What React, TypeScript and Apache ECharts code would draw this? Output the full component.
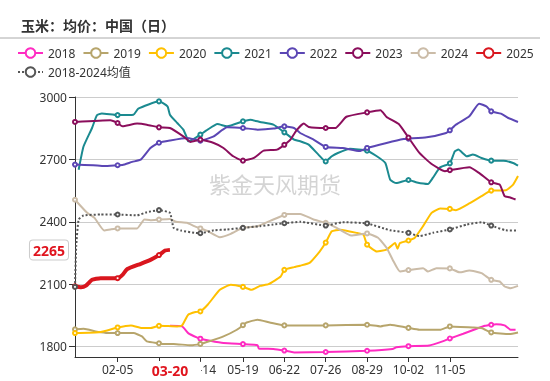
import React, { useEffect, useRef } from "react";
import * as echarts from "echarts";

const TITLE = "玉米：均价：中国（日）";
const WATERMARK = "紫金天风期货";
const tickLabels = ["02-05", "03-11", "04-14", "05-19", "06-22", "07-26", "08-29", "10-02", "11-05"];
const hiddenLabels = ["03-11"];
const markerDates = ["01-01", ...tickLabels, "12-09"];
const currentDate = "03-20";
const currentValue = 2265;
const yMin = 1750;
const yMax = 3000;

const d2018: [string, number][] = [
  ["03-20", 1900], ["03-30", 1897], ["04-04", 1865], ["04-11", 1844], ["04-14", 1838], ["04-22", 1828],
  ["05-03", 1817], ["05-19", 1812], ["05-31", 1807], ["06-01", 1791], ["06-13", 1789], ["06-22", 1781],
  ["06-30", 1772], ["07-26", 1774], ["08-29", 1780], ["09-19", 1789], ["09-22", 1797], ["10-02", 1802],
  ["10-19", 1805], ["10-30", 1825], ["11-05", 1839], ["11-16", 1862], ["11-27", 1886], ["12-04", 1900],
  ["12-09", 1905], ["12-13", 1908], ["12-20", 1902], ["12-25", 1881], ["12-29", 1881],
];
const d2019: [string, number][] = [
  ["01-01", 1883], ["01-08", 1886], ["01-19", 1872], ["01-28", 1865], ["02-05", 1865], ["02-18", 1865],
  ["02-25", 1849], ["03-01", 1825], ["03-11", 1816], ["03-15", 1812], ["03-23", 1813], ["04-06", 1806],
  ["04-14", 1813], ["04-22", 1827], ["05-03", 1849], ["05-14", 1881], ["05-19", 1903], ["05-22", 1916],
  ["05-31", 1929], ["06-10", 1916], ["06-22", 1902], ["07-26", 1902], ["08-29", 1905], ["09-09", 1897],
  ["09-17", 1905], ["09-30", 1892], ["10-02", 1890], ["10-11", 1881], ["10-28", 1881], ["11-05", 1897],
  ["11-24", 1892], ["12-01", 1889], ["12-09", 1868], ["12-24", 1860], ["12-31", 1868],
];
const d2020: [string, number][] = [
  ["01-01", 1865], ["01-22", 1870], ["02-05", 1892], ["02-16", 1902], ["02-25", 1889], ["03-04", 1889],
  ["03-11", 1900], ["03-26", 1897], ["03-30", 1902], ["04-04", 1953], ["04-10", 1966], ["04-14", 1969],
  ["04-20", 2001], ["04-30", 2073], ["05-09", 2097], ["05-19", 2087], ["05-26", 2073], ["06-02", 2092],
  ["06-09", 2100], ["06-19", 2137], ["06-22", 2169], ["06-30", 2182], ["07-05", 2189], ["07-13", 2204],
  ["07-21", 2257], ["07-26", 2300], ["07-31", 2354], ["08-07", 2362], ["08-21", 2346], ["08-26", 2338],
  ["08-29", 2290], ["09-06", 2257], ["09-14", 2266], ["09-21", 2298], ["09-23", 2270], ["09-25", 2298],
  ["10-02", 2310], ["10-07", 2322], ["10-14", 2379], ["10-21", 2443], ["10-28", 2464], ["11-05", 2462],
  ["11-10", 2456], ["11-21", 2488], ["12-01", 2523], ["12-09", 2550], ["12-21", 2552], ["12-27", 2579],
  ["12-31", 2620],
];
const d2021: [string, number][] = [
  ["01-04", 2650], ["01-08", 2762], ["01-15", 2851], ["01-19", 2912], ["01-23", 2921], ["02-05", 2913],
  ["02-18", 2915], ["02-22", 2944], ["03-11", 2979], ["03-18", 2955], ["03-20", 2915], ["03-26", 2875],
  ["03-31", 2843], ["04-03", 2803], ["04-04", 2787], ["04-09", 2800], ["04-14", 2819], ["04-20", 2843],
  ["04-28", 2870], ["05-06", 2859], ["05-19", 2883], ["05-25", 2891], ["06-02", 2880], ["06-13", 2867],
  ["06-22", 2830], ["06-30", 2795], ["07-05", 2787], ["07-12", 2771], ["07-20", 2723], ["07-26", 2690],
  ["07-31", 2715], ["08-05", 2731], ["08-15", 2751], ["08-29", 2742], ["09-06", 2715], ["09-13", 2683],
  ["09-17", 2602], ["09-22", 2586], ["10-02", 2601], ["10-09", 2589], ["10-18", 2582], ["10-22", 2611],
  ["10-28", 2662], ["11-05", 2681], ["11-09", 2738], ["11-12", 2747], ["11-19", 2715], ["11-24", 2723],
  ["12-01", 2707], ["12-09", 2694], ["12-19", 2694], ["12-27", 2683], ["12-31", 2670],
];
const d2022: [string, number][] = [
  ["01-01", 2675], ["01-16", 2672], ["01-25", 2668], ["02-05", 2672], ["02-09", 2673], ["02-17", 2688],
  ["02-24", 2699], ["03-04", 2755], ["03-11", 2780], ["03-20", 2791], ["04-03", 2803], ["04-14", 2790],
  ["04-25", 2811], ["05-06", 2854], ["05-19", 2851], ["05-31", 2843], ["06-13", 2848], ["06-22", 2859],
  ["06-30", 2851], ["07-05", 2827], ["07-16", 2795], ["07-26", 2760], ["08-09", 2755], ["08-23", 2740],
  ["08-29", 2755], ["09-14", 2779], ["09-28", 2798], ["10-02", 2800], ["10-17", 2806], ["11-02", 2827],
  ["11-05", 2840], ["11-10", 2867], ["11-21", 2907], ["11-29", 2968], ["12-05", 2955], ["12-09", 2931],
  ["12-17", 2920], ["12-23", 2899], ["12-31", 2880],
];
const d2023: [string, number][] = [
  ["01-01", 2880], ["01-30", 2888], ["02-05", 2875], ["02-09", 2859], ["02-21", 2872], ["03-01", 2867],
  ["03-11", 2854], ["03-20", 2851], ["03-31", 2811], ["04-06", 2784], ["04-14", 2795], ["04-25", 2779],
  ["05-03", 2755], ["05-11", 2715], ["05-19", 2694], ["05-28", 2707], ["06-05", 2742], ["06-16", 2747],
  ["06-22", 2770], ["06-27", 2795], ["07-02", 2840], ["07-08", 2872], ["07-12", 2856], ["07-26", 2851],
  ["08-03", 2851], ["08-12", 2905], ["08-29", 2926], ["09-09", 2936], ["09-14", 2904], ["09-24", 2870],
  ["10-02", 2805], ["10-11", 2731], ["10-21", 2678], ["11-01", 2643], ["11-05", 2648], ["11-21", 2662],
  ["11-29", 2635], ["12-09", 2590], ["12-16", 2579], ["12-20", 2523], ["12-24", 2518], ["12-29", 2507],
];
const d2024: [string, number][] = [
  ["01-01", 2506], ["01-11", 2443], ["01-17", 2419], ["01-25", 2358], ["01-30", 2363], ["02-05", 2368],
  ["02-21", 2368], ["02-27", 2411], ["03-04", 2408], ["03-11", 2411], ["03-20", 2414], ["03-25", 2400],
  ["04-03", 2395], ["04-09", 2379], ["04-14", 2368], ["04-20", 2355], ["04-30", 2326], ["05-09", 2342],
  ["05-19", 2371], ["05-31", 2379], ["06-13", 2411], ["06-22", 2433], ["06-24", 2438], ["07-05", 2438],
  ["07-16", 2411], ["07-26", 2395], ["08-04", 2371], ["08-16", 2334], ["08-29", 2344], ["09-07", 2323],
  ["09-14", 2275], ["09-19", 2218], ["09-25", 2161], ["10-02", 2168], ["10-14", 2177], ["10-18", 2161],
  ["10-25", 2177], ["11-05", 2176], ["11-13", 2157], ["11-21", 2166], ["12-01", 2153], ["12-09", 2121],
  ["12-16", 2113], ["12-20", 2089], ["12-25", 2081], ["12-31", 2092],
];
const d2025: [string, number][] = [
  ["01-01", 2090], ["01-06", 2085], ["01-10", 2093], ["01-15", 2121], ["01-22", 2129], ["02-05", 2129],
  ["02-09", 2145], ["02-13", 2173], ["02-24", 2198], ["03-04", 2217], ["03-11", 2240], ["03-16", 2262],
  ["03-20", 2265],
];
const dAvg: [string, number][] = [
  ["01-01", 2087], ["01-02", 2283], ["01-04", 2411], ["01-08", 2430], ["01-22", 2435], ["02-05", 2435],
  ["02-21", 2431], ["03-01", 2446], ["03-11", 2456], ["03-20", 2443], ["03-23", 2371], ["03-29", 2358],
  ["04-09", 2347], ["04-14", 2345], ["04-25", 2359], ["05-06", 2363], ["05-19", 2371], ["06-02", 2379],
  ["06-13", 2387], ["06-22", 2393], ["07-05", 2400], ["07-26", 2382], ["08-09", 2398], ["08-29", 2392],
  ["09-17", 2359], ["10-02", 2347], ["10-11", 2331], ["10-22", 2347], ["11-05", 2363], ["11-19", 2387],
  ["12-01", 2398], ["12-09", 2382], ["12-21", 2359], ["12-31", 2358],
];

const monthLengths = [31, 28, 31, 30, 31, 30, 31, 31, 30, 31, 30, 31];
const categories: string[] = [];
monthLengths.forEach((len, m) => {
  for (let d = 1; d <= len; d++) {
    categories.push(String(m + 1).padStart(2, "0") + "-" + String(d).padStart(2, "0"));
  }
});

const seriesDefs = [
  { name: "2018", color: "#ff2bc2", data: d2018, width: 2, type: "solid" },
  { name: "2019", color: "#b7a56c", data: d2019, width: 2, type: "solid" },
  { name: "2020", color: "#ffc000", data: d2020, width: 2, type: "solid" },
  { name: "2021", color: "#1b8a90", data: d2021, width: 2, type: "solid" },
  { name: "2022", color: "#5b46b4", data: d2022, width: 2, type: "solid" },
  { name: "2023", color: "#8b0e5c", data: d2023, width: 2, type: "solid" },
  { name: "2024", color: "#cbbca8", data: d2024, width: 2, type: "solid" },
  { name: "2025", color: "#d9161e", data: d2025, width: 4, type: "solid" },
  { name: "2018-2024均值", color: "#555555", data: dAvg, width: 2, type: "dotted" },
];

const FONT = "'Noto Sans', 'Noto Sans CJK SC', sans-serif";

export default function App() {
  const ref = useRef<HTMLDivElement>(null);
  useEffect(() => {
    const chart = echarts.init(ref.current!, null, { renderer: "svg" });
    const tickSet = new Set(tickLabels);
    const labelSet = new Set(tickLabels.filter((t) => !hiddenLabels.includes(t)));
    const markerSet = new Set(markerDates);
    chart.setOption({
      animation: false,
      textStyle: { fontFamily: FONT },
      title: {
        text: TITLE,
        left: 16,
        top: 13,
        textStyle: { fontSize: 14, fontWeight: "bold", color: "#333", fontFamily: "'Noto Sans CJK SC', sans-serif" },
      },
      legend: {
        left: 12,
        right: 0,
        top: 42,
        itemWidth: 25,
        itemHeight: 12,
        itemGap: 7,
        textStyle: { fontSize: 12, color: "#333" },
        data: seriesDefs.map((s) => s.name),
      },
      graphic: [
        {
          type: "line",
          silent: true,
          shape: { x1: 0, y1: 38, x2: 540, y2: 38 },
          style: { stroke: "#aaaaaa", lineWidth: 1 },
        },
        {
          type: "text",
          left: "center",
          top: 172,
          silent: true,
          z: 0,
          style: { text: WATERMARK, fontSize: 22, fill: "rgba(160,160,160,0.45)", fontFamily: "'Noto Sans CJK SC', sans-serif" },
        },
      ],
      grid: { left: 75, right: 32, top: 97, bottom: 24, containLabel: false },
      xAxis: {
        type: "category",
        data: categories,
        boundaryGap: false,
        axisLine: { lineStyle: { color: "#333" } },
        axisTick: { interval: (_i: number, v: string) => tickSet.has(v), length: 5, lineStyle: { color: "#333" } },
        axisLabel: { interval: (_i: number, v: string) => labelSet.has(v), color: "#333", fontSize: 12, margin: 6 },
        splitLine: { show: false },
        axisPointer: {
          show: true,
          type: "line",
          value: currentDate,
          status: "show",
          snap: false,
          triggerTooltip: false,
          lineStyle: { opacity: 0 },
          label: {
            show: true,
            color: "#e0141e",
            fontWeight: "bold",
            fontSize: 14,
            backgroundColor: "#ffffff",
            padding: [2, 13, 2, 13],
            margin: 4,
          },
        },
      },
      yAxis: {
        type: "value",
        min: yMin,
        max: yMax,
        splitNumber: 4,
        axisLine: { show: true, lineStyle: { color: "#333" } },
        axisTick: { show: true, length: 6, lineStyle: { color: "#333" } },
        axisLabel: { color: "#333", fontSize: 12, showMinLabel: false, formatter: (v: number) => String(v) },
        splitLine: { lineStyle: { color: "#cccccc" } },
        axisPointer: {
          show: true,
          type: "line",
          value: currentValue,
          status: "show",
          snap: false,
          triggerTooltip: false,
          lineStyle: { opacity: 0 },
          label: {
            show: true,
            color: "#e0141e",
            fontWeight: "bold",
            fontSize: 14,
            backgroundColor: "#ffffff",
            borderColor: "#cccccc",
            borderWidth: 1,
            padding: [3, 3, 2, 3],
            margin: 7,
            formatter: (p: any) => String(Math.round(p.value)),
          },
        },
      },
      series: seriesDefs.map((s) => ({
        type: "line",
        name: s.name,
        data: s.data.map(([d, v]) => ({ value: [d, v], symbol: markerSet.has(d) ? "emptyCircle" : "none" })),
        symbol: "emptyCircle",
        symbolSize: 4,
        showAllSymbol: true,
        smooth: 0.15,
        lineStyle: { color: s.color, width: s.width, type: s.type },
        itemStyle: { color: s.color, borderWidth: 1 },
        emphasis: { disabled: true },
      })),
    });
    return () => chart.dispose();
  }, []);
  return <div ref={ref} style={{ position: "fixed", left: 0, top: 0, width: 550, height: 381 }} />;
}
